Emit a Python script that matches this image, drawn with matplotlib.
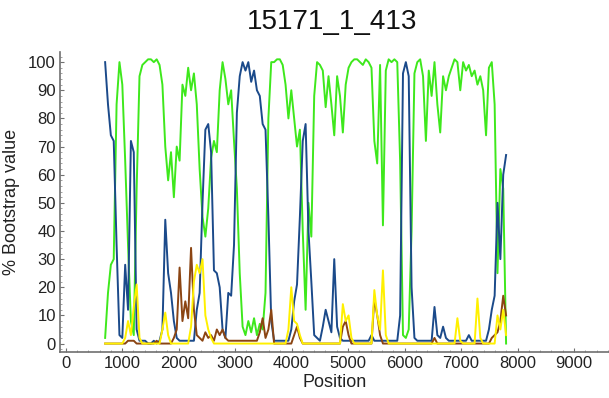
import numpy as np
import matplotlib
matplotlib.use("Agg")
import matplotlib.pyplot as plt
from matplotlib.ticker import MultipleLocator

plt.rcParams['font.family'] = ['Liberation Sans', 'DejaVu Sans']

title = "15171_1_413"
xlabel = "Position"
ylabel = "% Bootstrap value"
x_ticks = [0, 1000, 2000, 3000, 4000, 5000, 6000, 7000, 8000, 9000]
y_ticks = [0, 10, 20, 30, 40, 50, 60, 70, 80, 90, 100]

# window positions (141 windows)
positions = np.linspace(699, 7798, 141)

green = [2, 18, 28, 30, 85, 100, 92, 65, 35, 8,
         3, 55, 95, 99, 100, 101, 101, 100, 101, 99,
         92, 70, 58, 68, 52, 70, 65, 92, 88, 98,
         90, 96, 85, 62, 45, 38, 48, 66, 72, 68,
         90, 100, 94, 85, 90, 72, 55, 25, 6, 3,
         8, 4, 9, 3, 7, 5, 18, 80, 100, 100,
         101, 101, 99, 92, 80, 90, 80, 70, 76, 40,
         12, 50, 38, 88, 100, 99, 97, 84, 95, 85,
         74, 95, 88, 75, 92, 98, 100, 101, 101, 100,
         99, 101, 100, 98, 72, 64, 99, 42, 97, 101,
         100, 101, 100, 65, 3, 2, 5, 40, 96, 100,
         101, 95, 72, 97, 88, 100, 85, 75, 95, 90,
         95, 98, 101, 100, 90, 100, 97, 99, 95, 97,
         92, 95, 90, 74, 98, 100, 85, 25, 62, 55,
         0]

blue = [100, 85, 74, 72, 35, 3, 2, 28, 12, 72,
        68, 5, 1, 1, 1, 0, 0, 1, 0, 1,
        5, 44, 25, 18, 8, 2, 1, 1, 1, 1,
        1, 1, 12, 18, 50, 76, 78, 68, 26, 25,
        20, 5, 2, 18, 17, 35, 82, 95, 100, 97,
        100, 93, 97, 90, 88, 78, 76, 45, 8, 1,
        1, 1, 1, 1, 1, 5, 15, 21, 45, 72,
        78, 40, 22, 3, 2, 1, 6, 12, 8, 4,
        30, 6, 2, 1, 1, 1, 1, 1, 1, 1,
        1, 1, 1, 3, 1, 1, 1, 1, 1, 1,
        1, 1, 1, 10, 96, 100, 95, 20, 2, 1,
        1, 1, 1, 1, 1, 13, 3, 2, 6, 2,
        1, 1, 1, 1, 1, 1, 1, 3, 1, 1,
        1, 1, 1, 1, 5, 12, 17, 50, 30, 60,
        67]

brown = [0, 0, 0, 0, 0, 0, 0, 0, 1, 1,
         1, 0, 0, 0, 0, 0, 0, 0, 1, 0,
         0, 0, 0, 0, 2, 5, 27, 8, 15, 9,
         34, 12, 3, 2, 1, 4, 2, 3, 1, 5,
         3, 5, 2, 1, 1, 1, 1, 1, 1, 1,
         1, 1, 1, 1, 4, 9, 2, 5, 12, 0,
         0, 0, 0, 0, 0, 0, 3, 6, 2, 0,
         0, 0, 0, 0, 0, 0, 0, 0, 0, 0,
         0, 0, 0, 6, 8, 3, 0, 0, 0, 0,
         0, 0, 0, 0, 16, 10, 3, 0, 0, 0,
         0, 0, 0, 0, 0, 0, 0, 0, 0, 0,
         0, 0, 0, 0, 0, 2, 0, 0, 0, 0,
         0, 0, 0, 0, 0, 0, 0, 0, 0, 0,
         0, 0, 0, 0, 0, 2, 3, 4, 8, 17,
         10]

yellow = [0, 0, 0, 0, 0, 0, 0, 2, 8, 3,
          13, 21, 2, 0, 0, 0, 0, 0, 0, 0,
          5, 11, 3, 0, 0, 0, 0, 0, 0, 0,
          6, 22, 28, 25, 30, 10, 5, 2, 0, 0,
          0, 0, 0, 0, 0, 0, 0, 0, 0, 0,
          0, 0, 0, 0, 0, 0, 0, 0, 0, 0,
          0, 0, 0, 0, 5, 20, 8, 7, 3, 0,
          0, 0, 0, 0, 0, 0, 0, 0, 0, 0,
          0, 0, 0, 14, 8, 10, 2, 0, 0, 0,
          0, 0, 0, 0, 19, 10, 5, 26, 3, 0,
          0, 0, 0, 0, 0, 0, 0, 0, 0, 0,
          0, 0, 0, 0, 0, 0, 0, 0, 0, 0,
          0, 0, 0, 9, 1, 0, 0, 0, 0, 0,
          16, 2, 0, 0, 0, 0, 0, 10, 5, 12,
          3]

series = [
    (green, "#3ee81c"),
    (blue, "#1b4a8a"),
    (brown, "#8b4513"),
    (yellow, "#fff000"),
]

fig = plt.figure(figsize=(6.09, 3.98), dpi=100)
ax = fig.add_axes([60/609, 46/398, 549/609, 300/398])

for vals, col in series:
    ax.plot(positions, vals, color=col, lw=1.4, solid_joinstyle='round')

ax.set_xlim(-100, 9620)
ax.set_ylim(-3.0, 103.6)
ax.set_xticks(x_ticks)
ax.set_yticks(y_ticks)
ax.xaxis.set_minor_locator(MultipleLocator(200))
ax.yaxis.set_minor_locator(MultipleLocator(2))

for s in ['top', 'right']:
    ax.spines[s].set_visible(False)
for s in ['left', 'bottom']:
    ax.spines[s].set_color('#707070')
    ax.spines[s].set_linewidth(1.2)

ax.tick_params(which='major', direction='in', length=3, color='#707070',
               labelsize=12, pad=3, labelcolor='#222222')
ax.tick_params(which='minor', direction='in', length=1.5, color='#909090')

ax.set_xlabel(xlabel, fontsize=13, color='#222222', labelpad=2)
ax.set_ylabel(ylabel, fontsize=13, color='#222222', labelpad=6)
fig.text(0.545, 0.945, title, fontsize=20, ha='center', va='center', color='#111111')

fig.savefig("out.png", dpi=100)
